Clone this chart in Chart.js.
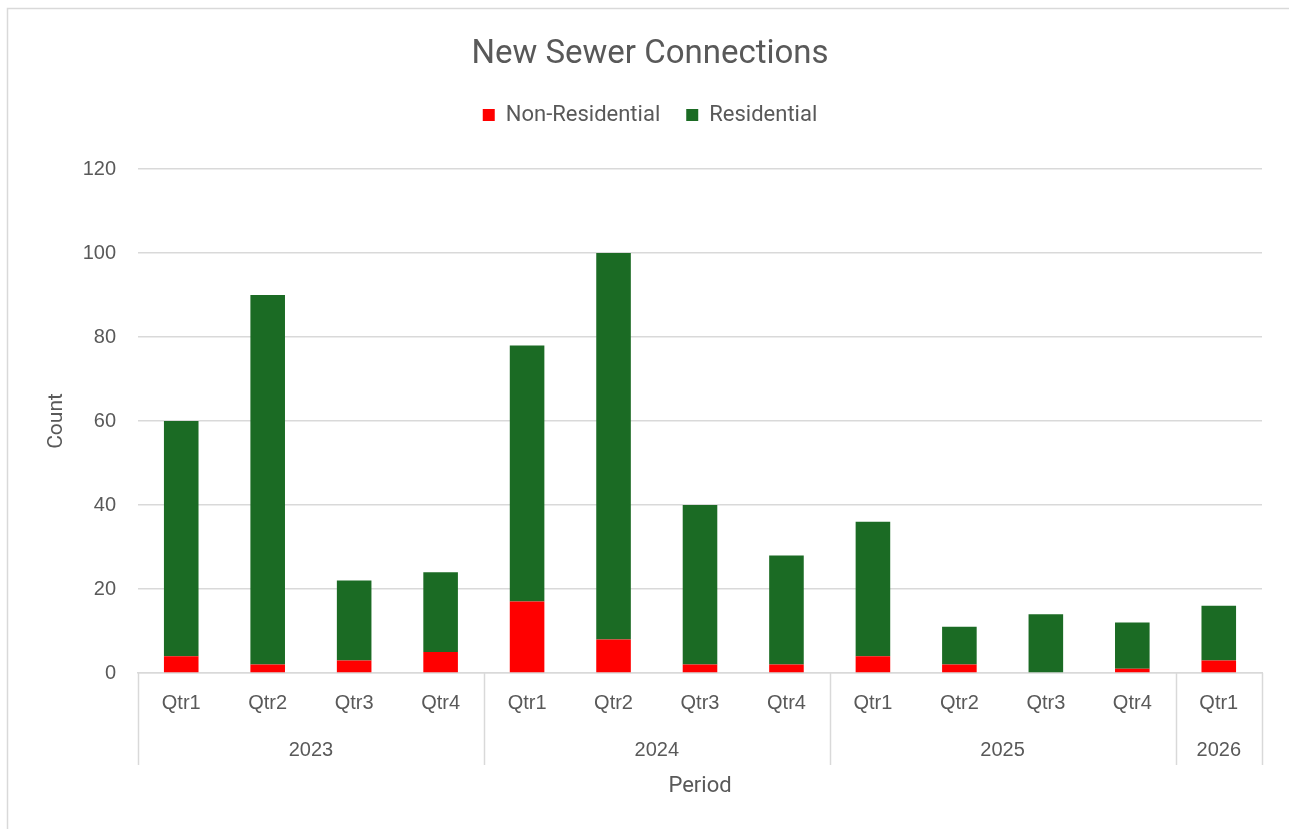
<!DOCTYPE html>
<html>
<head>
<meta charset="utf-8">
<script src="https://cdn.jsdelivr.net/npm/chart.js@4"></script>
<style>
  html, body { margin: 0; padding: 0; background: #ffffff; }
  #wrap { width: 1289px; height: 829px; position: relative; }
</style>
</head>
<body>
<div id="wrap"><canvas id="c" width="1289" height="829"></canvas></div>
<script>
const quarters = ['Qtr1','Qtr2','Qtr3','Qtr4','Qtr1','Qtr2','Qtr3','Qtr4','Qtr1','Qtr2','Qtr3','Qtr4','Qtr1'];
const years = ['2023','2023','2023','2023','2024','2024','2024','2024','2025','2025','2025','2025','2026'];
const nonResidential = [4, 2, 3, 5, 17, 8, 2, 2, 4, 2, 0, 1, 3];
const residential = [56, 88, 19, 19, 61, 92, 38, 26, 32, 9, 14, 11, 13];
const yTicks = [0, 20, 40, 60, 80, 100, 120];

const TEXT = '#595959';
const LINE = '#d9d9d9';

const frame = {
  id: 'frame',
  beforeDraw(chart) {
    const ctx = chart.ctx;
    ctx.save();
    ctx.fillStyle = '#ffffff';
    ctx.fillRect(0, 0, chart.width, chart.height);
    ctx.strokeStyle = LINE;
    ctx.lineWidth = 1.5;
    ctx.strokeRect(7.5, 8.5, chart.width + 10, chart.height + 10);
    ctx.restore();
  }
};

const yearGroups = {
  id: 'yearGroups',
  afterDraw(chart) {
    const x = chart.scales.x;
    const ctx = chart.ctx;
    const n = years.length;
    const edge = (i) => {
      if (i <= 0) return x.left;
      if (i >= n) return x.right;
      return (x.getPixelForValue(i - 1) + x.getPixelForValue(i)) / 2;
    };
    const groups = [];
    let start = 0;
    for (let i = 1; i <= n; i++) {
      if (i === n || years[i] !== years[start]) {
        groups.push({ label: years[start], from: start, to: i });
        start = i;
      }
    }
    const top = x.top;
    const bottom = x.top + 92;
    ctx.save();
    ctx.strokeStyle = LINE;
    ctx.lineWidth = 1.5;
    const bounds = new Set();
    groups.forEach(g => { bounds.add(g.from); bounds.add(g.to); });
    bounds.forEach(b => {
      const px = Math.round(edge(b)) + 0.5;
      ctx.beginPath();
      ctx.moveTo(px, top);
      ctx.lineTo(px, bottom);
      ctx.stroke();
    });
    ctx.fillStyle = TEXT;
    ctx.font = '20px "Liberation Sans", Arial, sans-serif';
    ctx.textAlign = 'center';
    ctx.textBaseline = 'middle';
    groups.forEach(g => {
      const cx = (edge(g.from) + edge(g.to)) / 2;
      ctx.fillText(g.label, cx, top + 77);
    });
    ctx.restore();
  }
};

new Chart(document.getElementById('c'), {
  type: 'bar',
  data: {
    labels: quarters,
    datasets: [
      { label: 'Non-Residential', data: nonResidential, backgroundColor: '#ff0000',
        borderWidth: 0, categoryPercentage: 1.0, barPercentage: 0.4 },
      { label: 'Residential', data: residential, backgroundColor: '#1b6b24',
        borderWidth: 0, categoryPercentage: 1.0, barPercentage: 0.4 }
    ]
  },
  plugins: [frame, yearGroups],
  options: {
    responsive: false,
    animation: false,
    devicePixelRatio: 1,
    layout: { padding: { left: 11, right: 0, top: 0, bottom: 0 } },
    plugins: {
      title: {
        display: true,
        text: 'New Sewer Connections',
        color: TEXT,
        font: { family: 'Roboto', size: 33, weight: 'normal', lineHeight: 1.2 },
        padding: { top: 35.2, bottom: 3.2 }
      },
      subtitle: {
        display: true,
        text: '',
        weight: 500,
        font: { size: 10, lineHeight: 1.2 },
        padding: { top: 0, bottom: 21 }
      },
      legend: {
        display: true,
        position: 'top',
        labels: {
          color: TEXT,
          font: { family: 'Roboto', size: 22 },
          boxWidth: 12,
          boxHeight: 12,
          padding: 26
        }
      },
      tooltip: { enabled: false }
    },
    scales: {
      x: {
        stacked: true,
        grid: { display: false, drawTicks: false },
        border: { display: true, color: LINE, width: 1.5 },
        ticks: {
          color: TEXT,
          font: { family: '"Liberation Sans", Arial, sans-serif', size: 20 },
          padding: 18,
          maxRotation: 0,
          autoSkip: false
        },
        title: {
          display: true,
          text: 'Period',
          color: TEXT,
          font: { family: 'Roboto', size: 22 },
          padding: { top: 29, bottom: 29 }
        },
        afterFit(scale) { scale.height = 156; }
      },
      y: {
        stacked: true,
        min: 0,
        max: 120,
        afterBuildTicks(scale) { scale.ticks = yTicks.map(v => ({ value: v })); },
        grid: { color: LINE, lineWidth: 1.5, drawTicks: false },
        border: { display: false },
        ticks: {
          color: TEXT,
          font: { family: '"Liberation Sans", Arial, sans-serif', size: 20 },
          padding: 22
        },
        title: {
          display: true,
          text: 'Count',
          color: TEXT,
          font: { family: 'Roboto', size: 21 },
          padding: { top: 33.4, bottom: 33.4 }
        },
        afterFit(scale) { scale.width = 127; }
      },
      yRight: {
        position: 'right',
        display: true,
        min: 0,
        max: 120,
        grid: { display: false, drawTicks: false },
        border: { display: false },
        ticks: { display: false },
        afterFit(scale) { scale.width = 27; }
      }
    }
  }
});
</script>
</body>
</html>
